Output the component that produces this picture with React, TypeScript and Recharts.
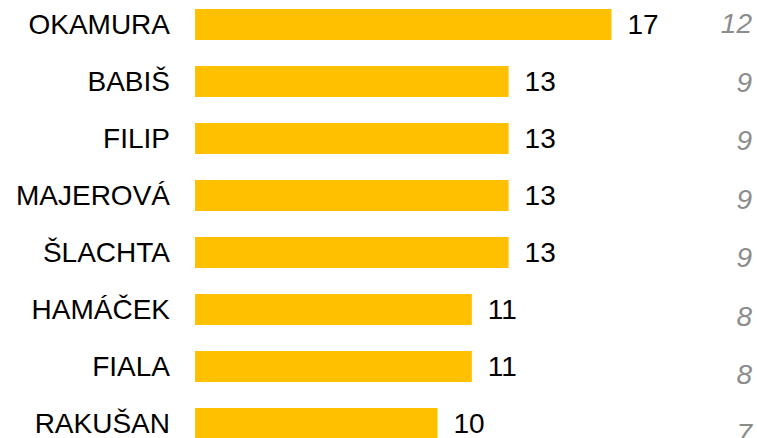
import { Bar, BarChart, LabelList, XAxis, YAxis } from "recharts";

// Candidates, current share (rounded in the labels) and the previous share
const names = ["OKAMURA", "BABIŠ", "FILIP", "MAJEROVÁ", "ŠLACHTA", "HAMÁČEK", "FIALA", "RAKUŠAN"];
const current = [17.0, 12.8, 12.8, 12.8, 12.8, 11.3, 11.3, 9.9];
const previous = [12, 9, 9, 9, 9, 8, 8, 7];

const data = names.map((name, i) => ({ name, current: current[i], previous: previous[i] }));
const prevByName: Record<string, number> = Object.fromEntries(names.map((n, i) => [n, previous[i]]));

const FONT = "'Liberation Sans', Arial, sans-serif";

export default function App() {
  return (
    <div
      style={{
        position: "absolute",
        left: 0,
        top: 0,
        width: 757,
        height: 438,
        overflow: "hidden",
        background: "#fff",
        fontFamily: FONT,
      }}
    >
      <div style={{ position: "absolute", left: 0, top: -4 }}>
        <BarChart
          width={757}
          height={456}
          data={data}
          layout="vertical"
          margin={{ top: 0, right: 0, bottom: 0, left: 0 }}
          barCategoryGap={13}
        >
          <XAxis type="number" domain={[0, 20]} hide />
          <YAxis
            yAxisId="left"
            type="category"
            dataKey="name"
            width={195}
            axisLine={false}
            tickLine={false}
            tickSize={0}
            tickMargin={25}
            tick={{ fill: "#000", fontSize: 28, fontFamily: FONT }}
          />
          {/* previous-result column runs on a slightly looser pitch than the bars */}
          <YAxis
            yAxisId="right"
            orientation="right"
            type="category"
            dataKey="name"
            width={72}
            padding={{ top: -2, bottom: -10 }}
            axisLine={false}
            tickLine={false}
            tickSize={0}
            tickMargin={67}
            tickFormatter={(n: string) => String(prevByName[n])}
            tick={{ fill: "#8c8c8c", fontSize: 28, fontStyle: "italic", fontFamily: FONT, textAnchor: "end" }}
          />
          <Bar yAxisId="left" dataKey="current" fill="#FFC000" isAnimationActive={false}>
            <LabelList
              dataKey="current"
              position="right"
              offset={16}
              formatter={(v: number) => Math.round(v)}
              style={{ fill: "#000", fontSize: 28, fontFamily: FONT }}
            />
          </Bar>
          <Bar yAxisId="right" dataKey="current" fill="none" legendType="none" isAnimationActive={false} hide />
        </BarChart>
      </div>
    </div>
  );
}
